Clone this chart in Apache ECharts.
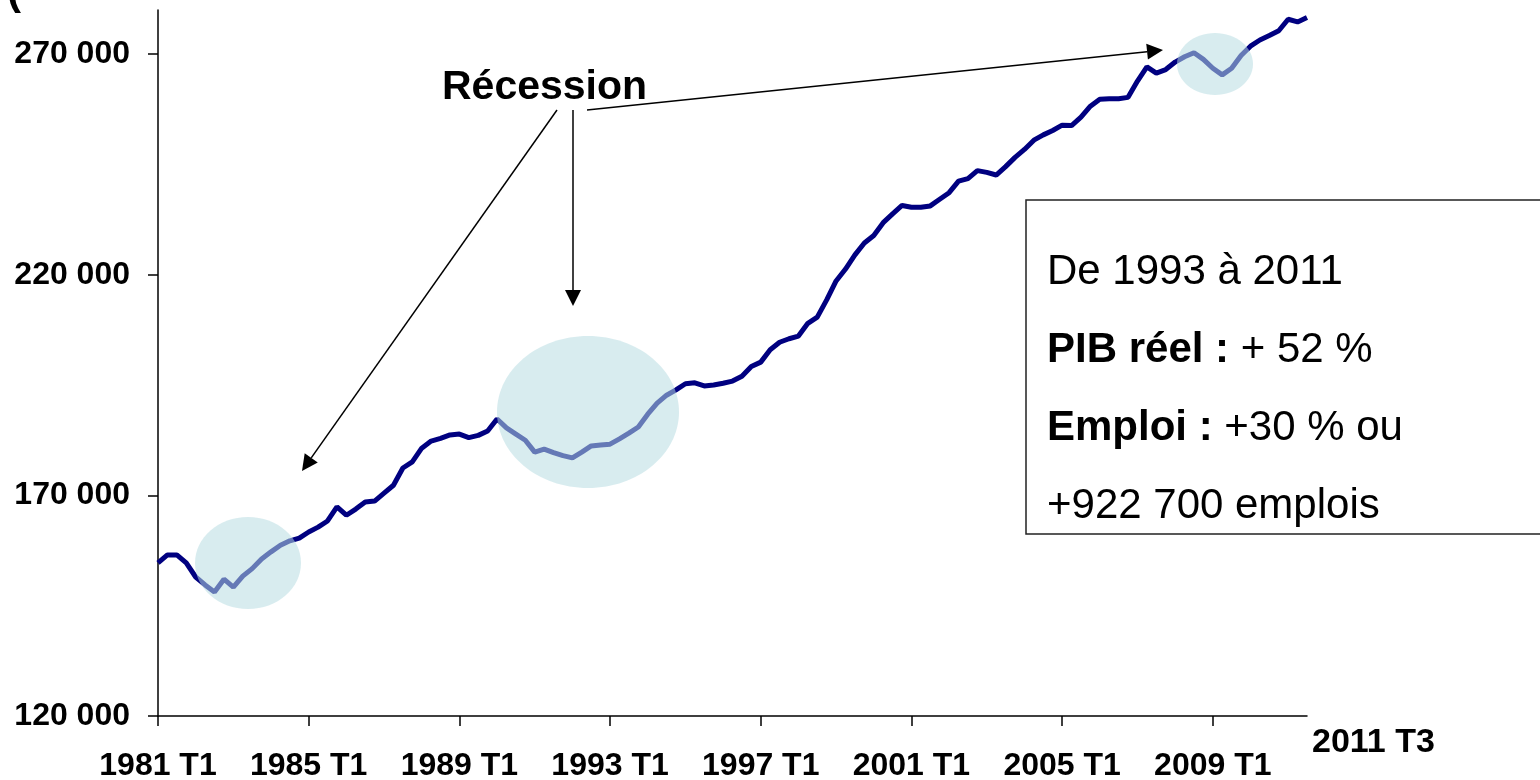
<!DOCTYPE html>
<html>
<head>
<meta charset="utf-8">
<script src="https://cdn.jsdelivr.net/npm/echarts@6/dist/echarts.min.js"></script>
<style>
  html, body { margin: 0; padding: 0; background: #fff; }
  #main { width: 1540px; height: 780px; }
</style>
</head>
<body>
<div id="main"></div>
<script>
// quarters from 1981 T1 to 2011 T3
var startYear = 1981;
var quarterNames = ['T1', 'T2', 'T3', 'T4'];
var nbQuarters = 123;
var categories = [];
for (var q = 0; q < nbQuarters; q++) {
    categories.push((startYear + Math.floor(q / 4)) + ' ' + quarterNames[q % 4]);
}

// PIB réel (millions $ enchaînés)
var pib = [
    154700, 156500, 156500, 154700, 151500, 149700, 148100, 151000,
    149200, 151700, 153400, 155600, 157200, 158700, 159700, 160300,
    161700, 162800, 164200, 167400, 165500, 166900, 168500, 168700,
    170500, 172300, 176200, 177600, 180700, 182300, 182900, 183700,
    183900, 183100, 183600, 184600, 187300, 185300, 183900, 182500,
    179800, 180500, 179700, 179000, 178500, 179800, 181200, 181400,
    181600, 182800, 184100, 185500, 188400, 190900, 192700, 193900,
    195300, 195500, 194800, 195000, 195400, 195900, 197000, 199200,
    200200, 203000, 204700, 205500, 206100, 209000, 210400, 214300,
    218600, 221300, 224500, 227200, 228900, 231800, 233800, 235700,
    235300, 235300, 235600, 237100, 238600, 241200, 241800, 243600,
    243200, 242600, 244500, 246600, 248400, 250500, 251700, 252700,
    253900, 253800, 255700, 258200, 259800, 259900, 259900, 260200,
    263900, 267100, 265700, 266500, 268200, 269400, 270300, 268800,
    266800, 265300, 266800, 269700, 271800, 273200, 274200, 275300,
    277900, 277300, 278300
];

var yTicks = [120000, 170000, 220000, 270000];
var labelEvery = 16;
var lastLabel = '2011 T3';

var infoLines = [
    '{n|De 1993 à 2011}',
    '{b|PIB réel :}{n| + 52 %}',
    '{b|Emploi :}{n| +30 % ou}',
    '{n|+922 700 emplois}'
];

var FONT = '"Liberation Sans", Arial, sans-serif';

function fmtThousands(v) {
    return String(v).replace(/\B(?=(\d{3})+(?!\d))/g, ' ');
}

// petite fonction pour dessiner une flèche (ligne + pointe pleine)
function arrow(x1, y1, x2, y2) {
    var dx = x2 - x1, dy = y2 - y1;
    var len = Math.sqrt(dx * dx + dy * dy);
    var ux = dx / len, uy = dy / len;
    var headL = 16, headW = 8;
    var bx = x2 - ux * headL, by = y2 - uy * headL;
    return [{
        type: 'line',
        z: 50,
        shape: { x1: x1, y1: y1, x2: bx, y2: by },
        style: { stroke: '#000', lineWidth: 1.5 }
    }, {
        type: 'polygon',
        z: 50,
        shape: { points: [[x2, y2], [bx - uy * headW, by + ux * headW], [bx + uy * headW, by - ux * headW]] },
        style: { fill: '#000' }
    }];
}

var myChart = echarts.init(document.getElementById('main'));

var graphics = [];
// recessions
graphics.push({ type: 'ellipse', z: 40, shape: { cx: 248, cy: 563, rx: 53, ry: 46 }, style: { fill: 'rgba(184,221,225,0.55)' } });
graphics.push({ type: 'ellipse', z: 40, shape: { cx: 588, cy: 412, rx: 91, ry: 76 }, style: { fill: 'rgba(184,221,225,0.55)' } });
graphics.push({ type: 'ellipse', z: 40, shape: { cx: 1215, cy: 64, rx: 38, ry: 31 }, style: { fill: 'rgba(184,221,225,0.55)' } });

graphics = graphics.concat(arrow(557, 110, 302, 471));
graphics = graphics.concat(arrow(573, 110, 573, 306));
graphics = graphics.concat(arrow(587, 110, 1163, 50));

graphics.push({
    type: 'text', z: 50, x: 442, y: 88,
    style: { text: 'Récession', font: 'bold 41px ' + FONT, fill: '#000', verticalAlign: 'middle' }
});

// bout du titre coupé en haut
graphics.push({
    type: 'text', z: 50, x: 7, y: -29,
    style: { text: '(', font: 'bold 42px ' + FONT, fill: '#000' }
});

// encadré
graphics.push({
    type: 'rect', z: 45,
    shape: { x: 1026, y: 200, width: 600, height: 334 },
    style: { fill: '#fff', stroke: '#222', lineWidth: 1.5 }
});
var lineY = [272, 350, 428, 506];
for (var k = 0; k < infoLines.length; k++) {
    graphics.push({
        type: 'text', z: 50, x: 1047, y: lineY[k],
        style: {
            text: infoLines[k],
            verticalAlign: 'middle',
            rich: {
                n: { font: '42px ' + FONT, fill: '#000' },
                b: { font: 'bold 42px ' + FONT, fill: '#000' }
            }
        }
    });
}

// dernière étiquette de l'axe
graphics.push({
    type: 'text', z: 50, x: 1312, y: 743,
    style: { text: lastLabel, font: 'bold 34px ' + FONT, fill: '#000', verticalAlign: 'middle' }
});

var option = {
    animation: false,
    grid: { left: 158, right: 233, top: 10, bottom: 64, containLabel: false, outerBoundsMode: 'none' },
    xAxis: {
        type: 'category',
        data: categories,
        boundaryGap: false,
        axisLine: { lineStyle: { color: '#000', width: 1.5 } },
        axisTick: {
            length: 10,
            lineStyle: { color: '#000', width: 1.5 },
            interval: function (index) { return index % labelEvery === 0; }
        },
        axisLabel: {
            margin: 34,
            color: '#000',
            fontFamily: FONT,
            fontWeight: 'bold',
            fontSize: 32,
            interval: function (index) { return index % labelEvery === 0; }
        },
        splitLine: { show: false }
    },
    yAxis: {
        type: 'value',
        min: 120000,
        max: 280000,
        axisLine: { show: true, lineStyle: { color: '#000', width: 1.5 } },
        axisTick: { show: true, length: 10, customValues: yTicks, lineStyle: { color: '#000', width: 1.5 } },
        axisLabel: {
            customValues: yTicks,
            margin: 28,
            color: '#000',
            fontFamily: FONT,
            fontWeight: 'bold',
            fontSize: 32,
            formatter: fmtThousands
        },
        splitLine: { show: false }
    },
    series: [{
        name: 'PIB réel',
        type: 'line',
        data: pib,
        symbol: 'none',
        z: 2,
        lineStyle: { color: '#000080', width: 5 }
    }],
    graphic: graphics
};

myChart.setOption(option);
</script>
</body>
</html>
